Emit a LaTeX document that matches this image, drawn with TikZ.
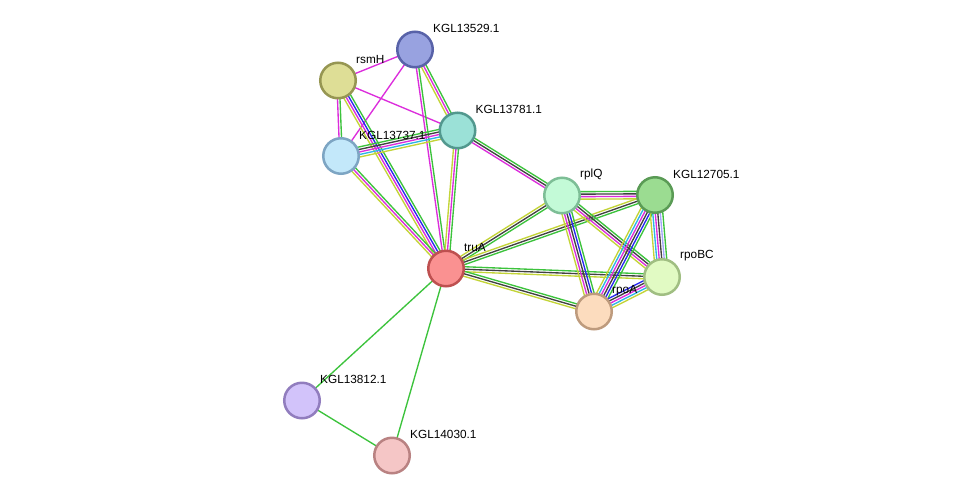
\documentclass[tikz,border=0pt]{standalone}
\usepackage{fontspec}
\setmainfont{Liberation Sans}
\usetikzlibrary{calc}
\pgfdeclarelayer{background}
\pgfdeclarelayer{paper}
\pgfsetlayers{paper,background,main}
\definecolor{cG}{RGB}{60,195,60}
\definecolor{cK}{RGB}{65,65,65}
\definecolor{cM}{RGB}{220,45,220}
\definecolor{cB}{RGB}{40,40,240}
\definecolor{cC}{RGB}{45,180,230}
\definecolor{cY}{RGB}{195,212,55}
\definecolor{cL}{RGB}{165,165,250}
\newcommand\medge[4]{%
  \foreach \cc [count=\ii] in {#4} {%
    \pgfmathsetmacro\oo{((#3-1)/2-\ii+1)*2.5}%
    \draw[\cc, line width=1.35pt] ($(#1.center)!\oo pt!90:(#2.center)$) -- ($(#2.center)!\oo pt!-90:(#1.center)$);
  }%
}
\tikzset{
  prot/.style={circle, minimum size=35.5pt, inner sep=0pt, line width=2.5pt},
  lbl/.style={anchor=west, inner sep=0pt, font=\fontsize{11.8}{12}\selectfont, text=black}
}
\newcommand\prot[6]{%
  \node[prot, fill={rgb,255:#4}, draw={rgb,255:#5}] (#1) at (#2,#3) {};
  \node[lbl] (#1-l) at (#2+18,#3-21) {#6};
}
\begin{document}
\begin{tikzpicture}[x=1pt,y=-1pt]
\begin{pgfonlayer}{paper}
\fill[white] (0,0) rectangle (976,501);
\end{pgfonlayer}
\useasboundingbox (0,0) rectangle (976,501);
\prot{k529}{415}{49.5}{red,152;green,162;blue,224}{red,88;green,98;blue,168}{KGL13529.1}
\prot{rsmH}{338}{80.5}{red,222;green,222;blue,150}{red,150;green,150;blue,82}{rsmH}
\prot{k781}{457.5}{130.5}{red,155;green,225;blue,215}{red,82;green,152;blue,142}{KGL13781.1}
\prot{k737}{341}{156}{red,195;green,232;blue,250}{red,125;green,165;blue,195}{KGL13737.1}
\prot{rplQ}{562}{195.5}{red,195;green,250;blue,215}{red,125;green,190;blue,150}{rplQ}
\prot{k705}{655}{195}{red,155;green,220;blue,145}{red,90;green,155;blue,85}{KGL12705.1}
\prot{truA}{446}{268.5}{red,250;green,145;blue,145}{red,190;green,80;blue,80}{truA}
\prot{rpoBC}{662}{277}{red,225;green,250;blue,195}{red,160;green,190;blue,130}{rpoBC}
\prot{rpoA}{594}{311.5}{red,252;green,220;blue,190}{red,190;green,155;blue,125}{rpoA}
\prot{k812}{302}{400.5}{red,210;green,195;blue,250}{red,145;green,125;blue,190}{KGL13812.1}
\prot{k030}{392}{455.5}{red,245;green,198;blue,198}{red,185;green,130;blue,130}{KGL14030.1}
\begin{pgfonlayer}{background}
\medge{rsmH}{k529}{1}{cM}
\medge{k529}{k737}{1}{cM}
\medge{rsmH}{k781}{1}{cM}
\medge{k529}{k781}{3}{cG,cM,cY}
\medge{k529}{truA}{2}{cG,cM}
\medge{rsmH}{k737}{2}{cG,cM}
\medge{rsmH}{truA}{4}{cG,cB,cM,cY}
\medge{k737}{k781}{5}{cG,cK,cM,cC,cY}
\medge{k737}{truA}{3}{cG,cM,cY}
\medge{k781}{truA}{3}{cG,cM,cY}
\medge{k781}{rplQ}{3}{cG,cK,cM}
\medge{rplQ}{truA}{3}{cG,cK,cY}
\medge{k705}{truA}{3}{cG,cK,cY}
\medge{rplQ}{k705}{4}{cG,cK,cM,cY}
\medge{truA}{rpoBC}{3}{cG,cK,cY}
\medge{truA}{rpoA}{3}{cG,cK,cY}
\medge{rplQ}{rpoA}{5}{cG,cB,cK,cM,cY}
\medge{rplQ}{rpoBC}{4}{cG,cK,cM,cY}
\medge{k705}{rpoA}{6}{cG,cB,cK,cM,cC,cY}
\medge{k705}{rpoBC}{6}{cG,cL,cK,cM,cC,cY}
\medge{rpoA}{rpoBC}{5}{cB,cK,cM,cC,cY}
\medge{truA}{k812}{1}{cG}
\medge{truA}{k030}{1}{cG}
\medge{k812}{k030}{1}{cG}
\end{pgfonlayer}
\end{tikzpicture}
\end{document}
